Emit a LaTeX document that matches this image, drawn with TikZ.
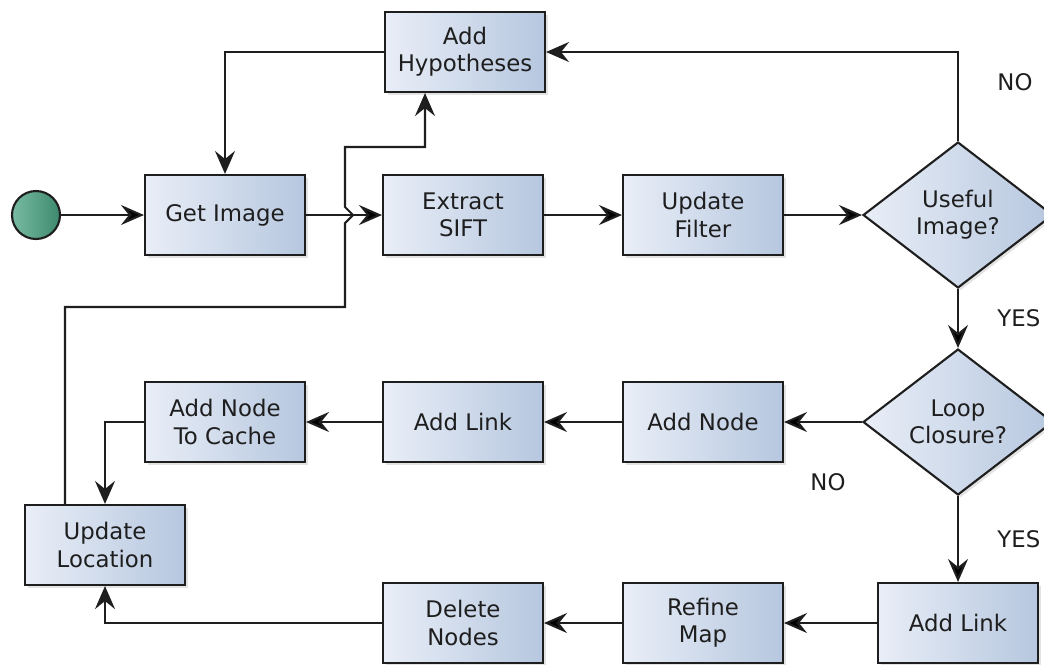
\documentclass[tikz,border=0pt]{standalone}
\usepackage{fontspec}
\setmainfont{DejaVu Sans}
\usetikzlibrary{arrows.meta,shapes.geometric,shadows}

\definecolor{boxleft}{HTML}{E9EEF7}
\definecolor{boxright}{HTML}{B6C7DF}
\definecolor{dotleft}{HTML}{78BBA2}
\definecolor{dotright}{HTML}{3D8A6E}
\definecolor{flowline}{HTML}{1E1E1E}

\tikzset{
  every node/.style={font=\fontsize{13}{15.5}\selectfont, text=flowline},
  block/.style={draw=flowline, line width=1.2pt, left color=boxleft, right color=boxright,
    minimum width=3.2cm, minimum height=1.6cm, align=center,
    drop shadow={opacity=0.22, shadow xshift=1.5pt, shadow yshift=-1.5pt}},
  decide/.style={diamond, draw=flowline, line width=1.2pt, left color=boxleft, right color=boxright,
    minimum width=3.8cm, minimum height=2.92cm, inner sep=0pt, align=center,
    drop shadow={opacity=0.22, shadow xshift=1.5pt, shadow yshift=-1.5pt}},
  startdot/.style={circle, draw=flowline, line width=1.2pt, left color=dotleft, right color=dotright,
    minimum size=0.96cm, inner sep=0pt},
  flow/.style={draw=flowline, line width=1.2pt, -{Stealth[length=0.46cm,width=0.4cm,inset=0.16cm]}},
  answer/.style={right, xshift=0.65cm}
}

\begin{document}
\begin{tikzpicture}[x=0.02cm, y=-0.02cm]
  \useasboundingbox (0,0) rectangle (1044,664);

  % top rows
  \node[startdot] (s) at (36,215) {};
  \node[block] (get) at (225,215) {Get Image};
  \node[block] (sift) at (463,215) {Extract\\SIFT};
  \node[block] (filt) at (703,215) {Update\\Filter};
  \node[decide] (useful) at (958,215) {Useful\\Image?};
  \node[block] (hyp) at (465,52) {Add\\Hypotheses};

  % middle row
  \node[decide] (loop) at (958,422) {Loop\\Closure?};
  \node[block] (addnode) at (703,422) {Add Node};
  \node[block] (addlink) at (463,422) {Add Link};
  \node[block] (cache) at (225,422) {Add Node\\To Cache};
  \node[block] (loc) at (105,545) {Update\\Location};

  % bottom row
  \node[block] (close) at (958,623) {Add Link};
  \node[block] (refine) at (703,623) {Refine\\Map};
  \node[block] (delete) at (463,623) {Delete\\Nodes};

  \coordinate (jump) at (345,215);

  \path[flow]
  (s) edge (get)
  (get) edge (sift)
  (sift) edge (filt)
  (filt) edge (useful)
  (useful) edge node [answer] {YES} (loop)
  (loop) edge node [below, xshift=0.1cm, yshift=-0.9cm] {NO} (addnode)
  (addnode) edge (addlink)
  (addlink) edge (cache)
  (loop) edge node [answer] {YES} (close)
  (close) edge (refine)
  (refine) edge (delete)
  ;
  \draw[flow] (useful.north) |- node [pos=0.33, answer] {NO} (hyp.east);
  \draw[flow] (hyp.west) -| (get.north);
  \draw[flow] (cache.west) -| (loc.north);
  \draw[flow] (delete.west) -| (loc.south);

  % back to the hypotheses, hopping over the image line
  \draw[flow] ([xshift=-0.8cm]loc.north) |- (345,307)
    -- ([yshift=-0.16cm]jump) -- ([xshift=0.16cm]jump) -- ([yshift=0.16cm]jump)
    |- (425,147) -- ([xshift=-0.8cm]hyp.south);
\end{tikzpicture}
\end{document}
